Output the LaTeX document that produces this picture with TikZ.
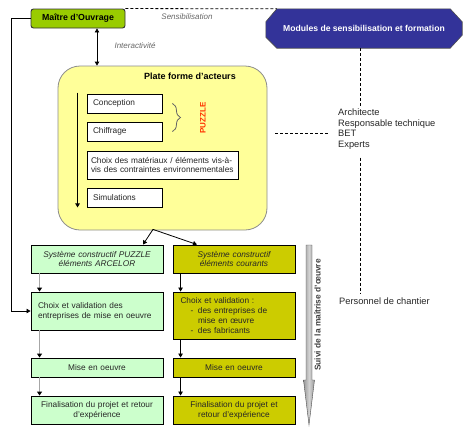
\documentclass[tikz,border=0pt]{standalone}
\usepackage{fontspec}
\setmainfont{Liberation Sans}
\usetikzlibrary{arrows.meta,calc,decorations.pathreplacing}
\definecolor{moGreen}{HTML}{99CC00}
\definecolor{modBlue}{HTML}{333399}
\definecolor{plateYellow}{HTML}{FFFF99}
\definecolor{lightGreen}{HTML}{CCFFCC}
\definecolor{oliveBox}{HTML}{CCCC00}
\definecolor{txtGray}{HTML}{666666}
\definecolor{puzzleRed}{HTML}{FF3300}
\newcommand\dgBody{\fontsize{8.3}{9.8}\selectfont}
\begin{document}
\begin{tikzpicture}[x=1pt,y=-1pt]
\tikzset{
  every node/.style={font=\dgBody, text=black!85},
  tipb/.style={-{Triangle[length=4pt,width=4.5pt]}, line width=0.8pt},
  gline/.style={draw=gray!70, line width=1.6pt, -{Triangle[length=4pt,width=5pt,color=black]}},
  gbox/.style={draw=black, line width=0.9pt, fill=lightGreen, minimum width=132pt, text width=118pt, inner xsep=7pt, inner ysep=0pt},
  ybox/.style={draw=black, line width=0.9pt, fill=oliveBox, minimum width=122pt, text width=107pt, inner xsep=7.5pt, inner ysep=0pt},
  wbox/.style={draw=black, line width=0.9pt, fill=white, inner xsep=6pt, inner ysep=0pt, align=left},
  lbl/.style={font=\fontsize{8}{9}\selectfont\itshape, text=txtGray},
  dashline/.style={dash pattern=on 3pt off 2pt, line width=0.8pt},
  plain/.style={font=\fontsize{9.3}{10.5}\selectfont, text=black!85, inner sep=0pt, align=left}
}
\useasboundingbox (0,0) rectangle (472,437);

% Maitre d'ouvrage
\node[draw=black!80, line width=0.9pt, fill=moGreen, rounded corners=2.5pt, minimum width=94pt, minimum height=19pt, inner sep=0pt, font=\fontsize{8.8}{10}\selectfont\bfseries, text=black] (mo) at (78,18.5) {Maître d'Ouvrage};

% Modules hexagon
\node[minimum width=196pt, minimum height=39pt, inner sep=0pt] (mod) at (364,28.5) {};
\fill[modBlue, draw=black!70, line width=0.6pt]
  ($(mod.north west)+(11,0)$) -- ($(mod.north east)+(-12,0)$) -- ($(mod.north east)+(0,13)$)
  -- ($(mod.south east)+(0,-13)$) -- ($(mod.south east)+(-12,0)$) -- ($(mod.south west)+(11,0)$)
  -- ($(mod.south west)+(0,-11)$) -- ($(mod.north west)+(0,13)$) -- cycle;
\node[font=\fontsize{8.6}{10}\selectfont\bfseries, text=white] at (mod.center) {Modules de sensibilisation et formation};

\draw[dashline] (mo.north east) -- ($(mod.north west)+(11,0)$);
\node[lbl] at (187,17) {Sensibilisation};

% Plate forme
\node[draw=black!45, line width=0.8pt, fill=plateYellow, rounded corners=22pt, minimum width=209pt, minimum height=164pt] (plate) at (162.5,148) {};
\node[font=\fontsize{9}{10}\selectfont\bfseries, text=black] (ptitle) at (190,76) {Plate forme d'acteurs};

\draw[{Triangle[length=4pt,width=4.5pt]}-{Triangle[length=4pt,width=4.5pt]}, line width=0.8pt] ($(mo.south)+(19,0)$) -- ($(plate.north)+(-65.5,0)$);
\node[lbl] at (135,46) {Interactivité};

\node[wbox, minimum width=75pt, minimum height=19pt, text width=63pt] (conc) at (124.5,103.5) {Conception};
\node[wbox, minimum width=75pt, minimum height=19pt, text width=63pt] (chif) at (124.5,131.5) {Chiffrage};
\node[wbox, minimum width=151pt, minimum height=28pt, text width=143pt, inner xsep=4pt] (mat) at (162.5,165) {\mbox{Choix des matériaux / éléments vis-à-}\\\mbox{vis des contraintes environnementales}};
\node[wbox, minimum width=75pt, minimum height=19pt, text width=63pt] (sim) at (124.5,197.5) {Simulations};

\draw[tipb] ($(conc.north west)+(-9,-1)$) -- ($(sim.south west)+(-9,0)$);

\draw[decorate, decoration={brace, amplitude=8pt}, draw=black!60, line width=0.8pt] ($(conc.east)+(10,0)$) -- ($(chif.east)+(10,0)$);
\node[rotate=90, font=\fontsize{8}{9}\selectfont\bfseries, text=puzzleRed] (puz) at (203,118) {PUZZLE};

% Right side texts
\node[plain, anchor=north west] (acteurs) at (338,109) {Architecte\\Responsable technique\\BET\\Experts};
\node[plain, anchor=west] (perso) at (339,301) {Personnel de chantier};
\coordinate (dv) at ($(mod.south)+(-4,0)$);
\draw[dashline] (dv) -- ($(dv |- acteurs.north)+(0,-3)$);
\draw[dashline] ($(dv |- acteurs.south)+(0,8)$) -- ($(dv |- perso.north)+(0,-3)$);
\draw[dashline] ($(plate.east)+(8,-15)$) -- ($(acteurs.west |- plate.east)+(-10,-15)$);

% Green column
\node[gbox, minimum height=28pt, align=center, font=\dgBody\itshape] (g1) at (97,259) {Système constructif PUZZLE\\éléments ARCELOR};
\node[gbox, minimum height=38pt, align=left] (g2) at (97,311) {Choix et validation des\\entreprises de mise en oeuvre};
\node[gbox, minimum height=19pt, align=center] (g3) at (97,367.5) {Mise en oeuvre};
\node[gbox, minimum height=28pt, align=center] (g4) at (97,410) {Finalisation du projet et retour\\d'expérience};

% Yellow column
\node[ybox, minimum height=28pt, align=center, font=\dgBody\itshape] (y1) at (234,259) {Système constructif\\éléments courants};
\node[ybox, minimum height=47pt, align=left] (y2) at (234,315.5) {Choix et validation :\\\hspace*{10pt}\makebox[7.5pt][l]{-}des entreprises de\\\hspace*{17.5pt}mise en œuvre\\\hspace*{10pt}\makebox[7.5pt][l]{-}des fabricants};
\node[ybox, minimum height=19pt, align=center] (y3) at (234,367.5) {Mise en oeuvre};
\node[ybox, minimum height=28pt, align=center] (y4) at (234,410) {Finalisation du projet et\\retour d'expérience};

% Split arrows
\coordinate (split) at ($(plate.south)+(-9.5,-1)$);
\draw[tipb] (split) -- ($(g1.north)+(46,0)$);
\draw[tipb] (split) -- ($(y1.north)+(-37,0)$);

% Green arrows
\draw[gline] ($(g1.south west)+(9,0)$) -- ($(g2.north west)+(9,0)$);
\draw[gline] ($(g2.south west)+(9,0)$) -- ($(g3.north west)+(9,0)$);
\draw[gline] ($(g3.south west)+(9,0)$) -- ($(g4.north west)+(9,0)$);

% Yellow arrows
\draw[tipb] ($(y1.south west)+(8,0)$) -- ($(y2.north west)+(8,0)$);
\draw[tipb] ($(y2.south west)+(8,0)$) -- ($(y3.north west)+(8,0)$);
\draw[tipb] ($(y3.south west)+(8,0)$) -- ($(y4.north west)+(8,0)$);

% Left feedback line
\draw[tipb] (mo.west) -| ($(g2.west)+(-19,0)$) -- (g2.west);

% Big gray arrow
\shade[left color=gray!80, right color=gray!80, middle color=gray!35, draw=gray!60!black, line width=0.4pt]
  (306,245) -- (312,245) -- (312,380) -- (314.5,380) -- (309,425) -- (303.5,380) -- (306,380) -- cycle;
\node[rotate=90, font=\fontsize{8.4}{9}\selectfont\bfseries, text=black!75] (suivi) at (317.5,315) {Suivi de la maîtrise d'œuvre};
\end{tikzpicture}
\end{document}
